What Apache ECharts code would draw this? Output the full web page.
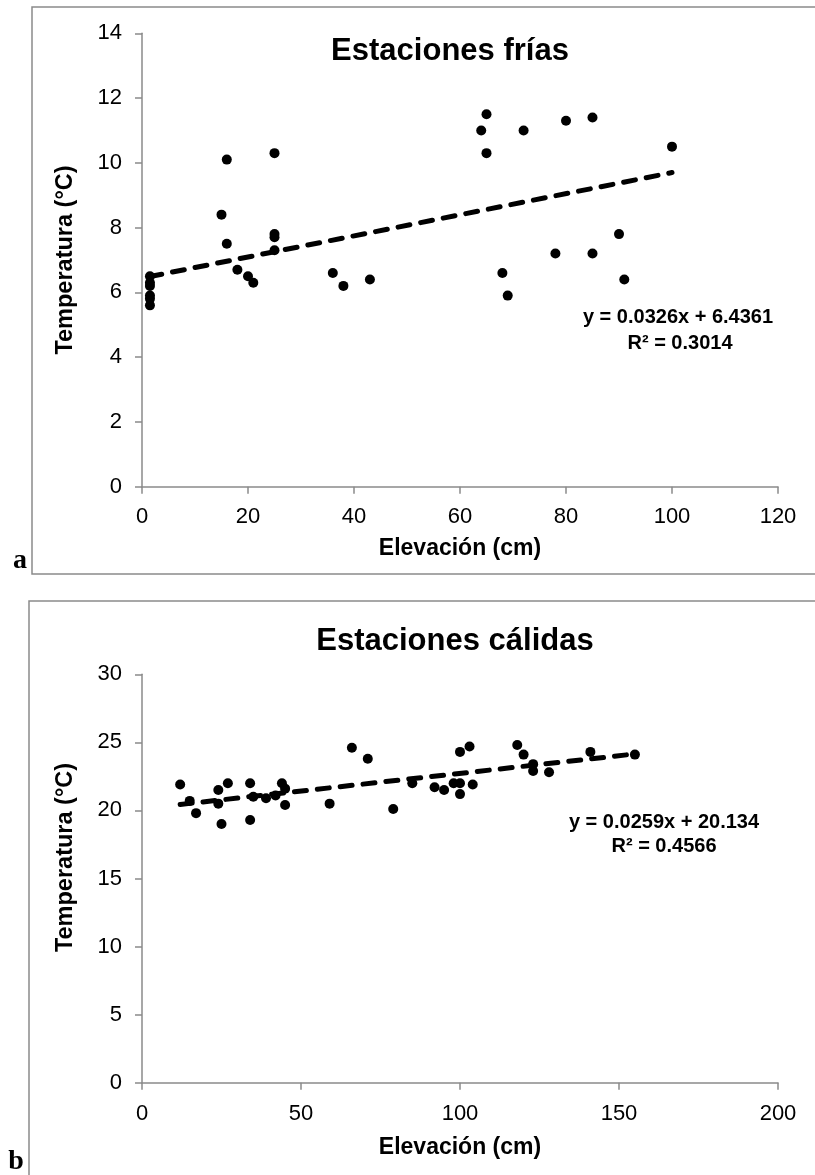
<!DOCTYPE html>
<html>
<head>
<meta charset="utf-8">
<script src="https://cdn.jsdelivr.net/npm/echarts@6/dist/echarts.min.js"></script>
<style>
  html, body { margin: 0; padding: 0; background: #fff; }
  #chart { width: 815px; height: 1175px; }
</style>
</head>
<body>
<div id="chart"></div>
<script>
// a) Estaciones frías
const coldElev = [1.5, 1.5, 1.5, 1.5, 1.5, 1.5, 15, 16, 16, 18, 20, 21, 25, 25, 25, 25, 36, 38, 43,
  64, 65, 65, 68, 69, 72, 78, 80, 85, 85, 90, 91, 100]
const coldTemp = [6.5, 6.3, 6.2, 5.9, 5.8, 5.6, 8.4, 10.1, 7.5, 6.7, 6.5, 6.3, 10.3, 7.8, 7.7, 7.3, 6.6, 6.2, 6.4,
  11.0, 11.5, 10.3, 6.6, 5.9, 11.0, 7.2, 11.3, 11.4, 7.2, 7.8, 6.4, 10.5]
const coldTrend = [[1.5, 6.49], [100, 9.70]]

// b) Estaciones cálidas
const warmElev = [12, 15, 17, 24, 24, 25, 27, 34, 35, 34, 39, 42, 44, 45, 45, 59, 66, 71, 79, 85,
  92, 95, 98, 100, 100, 100, 103, 104, 118, 120, 123, 123, 128, 141, 155]
const warmTemp = [21.9, 20.7, 19.8, 21.5, 20.5, 19.0, 22.0, 22.0, 21.0, 19.3, 20.9, 21.1, 22.0, 21.6, 20.4, 20.5, 24.6, 23.8, 20.1, 22.0,
  21.7, 21.5, 22.0, 24.3, 22.0, 21.2, 24.7, 21.9, 24.8, 24.1, 23.4, 22.9, 22.8, 24.3, 24.1]
const warmTrend = [[12, 20.44], [155, 24.15]]

const titles = ['Estaciones frías', 'Estaciones cálidas']
const equations = [['y = 0.0326x + 6.4361', 'R² = 0.3014'], ['y = 0.0259x + 20.134', 'R² = 0.4566']]

const FONT = '"Liberation Sans", Arial, sans-serif'
const GRAY = '#8a8a8a'

const zip = (xs, ys) => xs.map((x, i) => [x, ys[i]])

const xAxisBase = (gridIndex, max, interval, gap, margin) => ({
  type: 'value', gridIndex, min: 0, max, interval,
  name: 'Elevación (cm)', nameLocation: 'middle', nameGap: gap,
  nameTextStyle: { fontFamily: FONT, fontSize: 23, fontWeight: 'bold', color: '#000' },
  axisLine: { show: true, lineStyle: { color: GRAY, width: 1.5 } },
  axisTick: { show: true, length: 7, lineStyle: { color: GRAY, width: 1.5 } },
  axisLabel: { fontFamily: FONT, fontSize: 22, color: '#000', margin },
  splitLine: { show: false }
})

// pad shifts the rotated name along the axis (positive = up)
const yAxisBase = (gridIndex, max, interval, pad) => ({
  type: 'value', gridIndex, min: 0, max, interval,
  name: 'Temperatura (°C)', nameLocation: 'middle', nameGap: 64,
  nameTextStyle: { fontFamily: FONT, fontSize: 23.5, fontWeight: 'bold', color: '#000', padding: [0, 0, 0, pad] },
  axisLine: { show: true, lineStyle: { color: GRAY, width: 1.5 } },
  axisTick: { show: true, length: 7, lineStyle: { color: GRAY, width: 1.5 } },
  axisLabel: { fontFamily: FONT, fontSize: 22, color: '#000', margin: 20 },
  splitLine: { show: false }
})

const dots = (i, data) => ({
  type: 'scatter', xAxisIndex: i, yAxisIndex: i, data,
  symbol: 'circle', symbolSize: 10, itemStyle: { color: '#000', opacity: 1 }, z: 3
})

const trend = (i, data) => ({
  type: 'line', xAxisIndex: i, yAxisIndex: i, data,
  symbol: 'none', silent: true, z: 2,
  lineStyle: { color: '#000', width: 5, type: [12, 11], cap: 'round' }
})

const txt = (x, y, text, size, extra) => ({
  type: 'text', x, y,
  style: Object.assign({ text, fontFamily: FONT, fontSize: size, fontWeight: 'bold', fill: '#000',
    align: 'center', verticalAlign: 'middle' }, extra || {})
})

const option = {
  backgroundColor: '#fff',
  animation: false,
  grid: [
    { left: 142, top: 33.3, width: 636, height: 453.4 },
    { left: 142, top: 674.3, width: 636, height: 408.4 }
  ],
  xAxis: [xAxisBase(0, 120, 20, 50, 19), xAxisBase(1, 200, 50, 53, 20)],
  yAxis: [yAxisBase(0, 14, 2, 0), yAxisBase(1, 30, 5, 42)],
  series: [
    trend(0, coldTrend),
    dots(0, zip(coldElev, coldTemp)),
    trend(1, warmTrend),
    dots(1, zip(warmElev, warmTemp))
  ],
  graphic: [
    // panel frames (right side runs off the page)
    { type: 'rect', shape: { x: 32, y: 7, width: 800, height: 567 }, style: { fill: 'none', stroke: GRAY, lineWidth: 1.5 } },
    { type: 'rect', shape: { x: 29, y: 601, width: 800, height: 600 }, style: { fill: 'none', stroke: GRAY, lineWidth: 1.5 } },
    txt(450, 51, titles[0], 31),
    txt(455, 641, titles[1], 31),
    txt(678, 317, equations[0][0], 20),
    txt(680, 343, equations[0][1], 20),
    txt(664, 822, equations[1][0], 20),
    txt(664, 846, equations[1][1], 20),
    txt(20, 575, 'a', 28, { fontFamily: '"Liberation Serif", "Times New Roman", serif', verticalAlign: 'bottom' }),
    txt(16, 1176, 'b', 28, { fontFamily: '"Liberation Serif", "Times New Roman", serif', verticalAlign: 'bottom' })
  ]
}

const chart = echarts.init(document.getElementById('chart'))
chart.setOption(option)
</script>
</body>
</html>
